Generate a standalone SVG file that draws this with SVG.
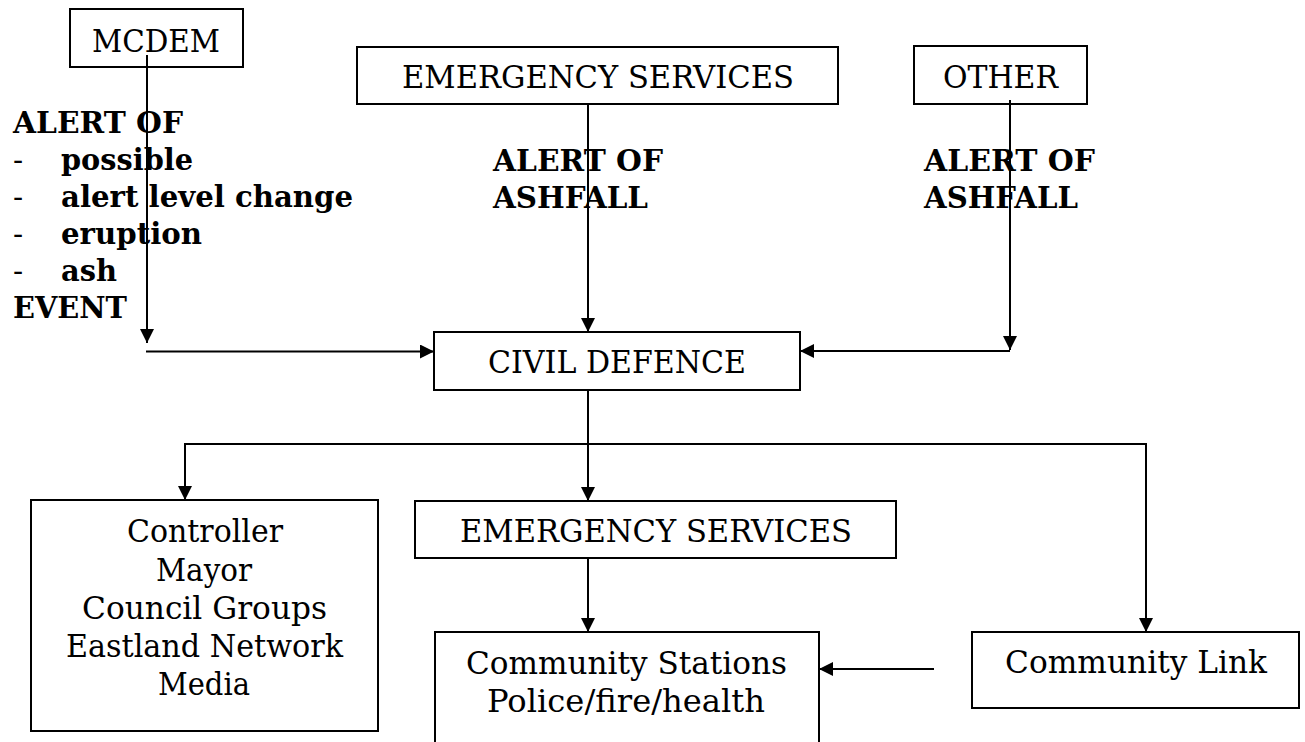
<svg xmlns="http://www.w3.org/2000/svg" width="1305" height="742" viewBox="0 0 1305 742">
<defs>
<style>
.box{fill:#fff;stroke:#000;stroke-width:2}
.t{font-family:"DejaVu Serif","Liberation Serif",serif;font-size:32px;fill:#000}
.b{font-family:"DejaVu Serif","Liberation Serif",serif;font-size:30px;font-weight:bold;fill:#000}
.d{font-family:"DejaVu Serif","Liberation Serif",serif;font-size:30px;fill:#000}
.c{stroke:#000;stroke-width:2;fill:none}
.a{marker-end:url(#arr)}
</style>
<marker id="arr" viewBox="0 0 14 14" refX="14" refY="7" markerWidth="14" markerHeight="14" markerUnits="userSpaceOnUse" orient="auto">
<path d="M0,0 L14,7 L0,14 z" fill="#000"/>
</marker>
</defs>
<rect width="1305" height="742" fill="#fff"/>

<g id="n-mcdem">
<rect class="box" x="70" y="9" width="173" height="58"/>
<text class="t" x="92" y="52" textLength="128" lengthAdjust="spacingAndGlyphs">MCDEM</text>
</g>
<g id="n-es-top">
<rect class="box" x="357" y="47" width="481" height="57"/>
<text class="t" x="402" y="88" textLength="392" lengthAdjust="spacingAndGlyphs">EMERGENCY SERVICES</text>
</g>
<g id="n-other">
<rect class="box" x="914" y="46" width="173" height="58"/>
<text class="t" x="943" y="88" textLength="115" lengthAdjust="spacingAndGlyphs">OTHER</text>
</g>
<g id="n-civil">
<rect class="box" x="434" y="332" width="366" height="58"/>
<text class="t" x="488" y="373" textLength="258" lengthAdjust="spacingAndGlyphs">CIVIL DEFENCE</text>
</g>
<g id="n-controller">
<rect class="box" x="31" y="500" width="347" height="231"/>
<text class="t" x="127" y="542" textLength="156" lengthAdjust="spacingAndGlyphs">Controller</text>
<text class="t" x="156" y="581" textLength="96" lengthAdjust="spacingAndGlyphs">Mayor</text>
<text class="t" x="82" y="619" textLength="245" lengthAdjust="spacingAndGlyphs">Council Groups</text>
<text class="t" x="66" y="657" textLength="277" lengthAdjust="spacingAndGlyphs">Eastland Network</text>
<text class="t" x="158" y="695" textLength="92" lengthAdjust="spacingAndGlyphs">Media</text>
</g>
<g id="n-es-bottom">
<rect class="box" x="415" y="501" width="481" height="57"/>
<text class="t" x="460" y="542" textLength="392" lengthAdjust="spacingAndGlyphs">EMERGENCY SERVICES</text>
</g>
<g id="n-stations">
<path class="box" d="M435,750 V632 H819 V750"/>
<text class="t" x="466" y="674" textLength="321" lengthAdjust="spacingAndGlyphs">Community Stations</text>
<text class="t" x="487" y="712" textLength="278" lengthAdjust="spacingAndGlyphs">Police/fire/health</text>
</g>
<g id="n-link">
<rect class="box" x="972" y="632" width="327" height="76"/>
<text class="t" x="1005" y="673" textLength="262" lengthAdjust="spacingAndGlyphs">Community Link</text>
</g>

<g id="connectors">
<line class="c a" x1="147" y1="55" x2="147" y2="343"/>
<line class="c a" x1="146" y1="351.5" x2="434" y2="351.5"/>
<line class="c a" x1="588" y1="104" x2="588" y2="332"/>
<line class="c a" x1="1010" y1="100" x2="1010" y2="350"/>
<line class="c a" x1="1010" y1="351" x2="800" y2="351"/>
<line class="c" x1="588" y1="390" x2="588" y2="444"/>
<polyline class="c a" points="588,444 185,444 185,500"/>
<line class="c a" x1="588" y1="444" x2="588" y2="501"/>
<polyline class="c a" points="588,444 1146,444 1146,632"/>
<line class="c a" x1="588" y1="558" x2="588" y2="632"/>
<line class="c a" x1="934" y1="669" x2="819" y2="669"/>
</g>

<g id="labels">
<text class="b" x="13" y="133" textLength="170" lengthAdjust="spacingAndGlyphs">ALERT OF</text>
<text class="d" x="13" y="170">-</text>
<text class="b" x="61" y="170" textLength="132" lengthAdjust="spacingAndGlyphs">possible</text>
<text class="d" x="13" y="207">-</text>
<text class="b" x="61" y="207" textLength="292" lengthAdjust="spacingAndGlyphs">alert level change</text>
<text class="d" x="13" y="244">-</text>
<text class="b" x="61" y="244" textLength="141" lengthAdjust="spacingAndGlyphs">eruption</text>
<text class="d" x="13" y="281">-</text>
<text class="b" x="61" y="281" textLength="56" lengthAdjust="spacingAndGlyphs">ash</text>
<text class="b" x="13" y="318" textLength="114" lengthAdjust="spacingAndGlyphs">EVENT</text>
<text class="b" x="493" y="171" textLength="170" lengthAdjust="spacingAndGlyphs">ALERT OF</text>
<text class="b" x="493" y="208" textLength="155" lengthAdjust="spacingAndGlyphs">ASHFALL</text>
<text class="b" x="924" y="171" textLength="171" lengthAdjust="spacingAndGlyphs">ALERT OF</text>
<text class="b" x="924" y="208" textLength="154" lengthAdjust="spacingAndGlyphs">ASHFALL</text>
</g>
</svg>
